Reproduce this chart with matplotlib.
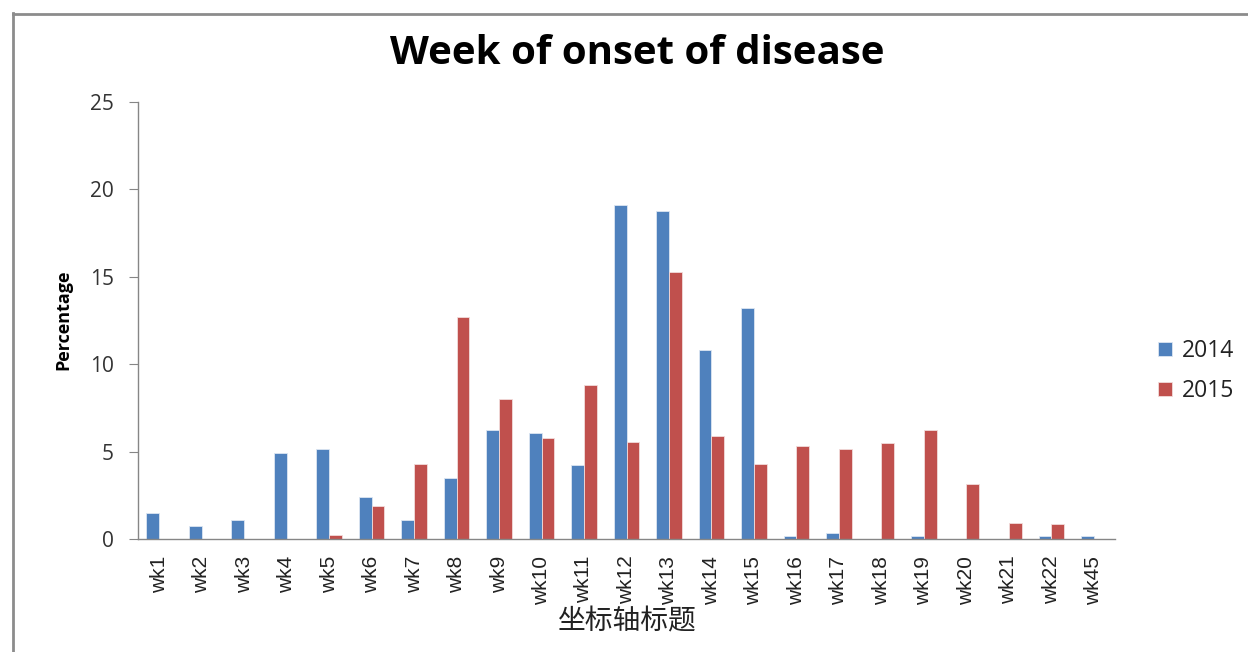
import matplotlib
matplotlib.use("Agg")
import matplotlib.pyplot as plt
import numpy as np
from matplotlib.lines import Line2D

categories = ["wk1", "wk2", "wk3", "wk4", "wk5", "wk6", "wk7", "wk8", "wk9", "wk10",
              "wk11", "wk12", "wk13", "wk14", "wk15", "wk16", "wk17", "wk18", "wk19",
              "wk20", "wk21", "wk22", "wk45"]
values_2014 = [1.5, 0.75, 1.1, 4.9, 5.15, 2.4, 1.1, 3.5, 6.25, 6.05,
               4.25, 19.1, 18.75, 10.8, 13.2, 0.2, 0.35, 0, 0.2, 0, 0, 0.2, 0.2]
values_2015 = [0, 0, 0, 0, 0.25, 1.9, 4.3, 12.7, 8.0, 5.8,
               8.8, 5.55, 15.25, 5.9, 4.3, 5.3, 5.15, 5.5, 6.25, 3.15, 0.9, 0.85, 0]
series_names = ["2014", "2015"]
yticks = [0, 5, 10, 15, 20, 25]

plt.rcParams['font.family'] = ['Open Sans', 'Noto Sans CJK SC', 'DejaVu Sans']

W, H = 1248, 652
fig = plt.figure(figsize=(W / 100, H / 100), dpi=100)
ax = fig.add_axes([138 / W, 1 - 539 / H, (1115 - 138) / W, (539 - 102) / H])

x = np.arange(len(categories))
bw = 0.3
c1, c2 = "#4F81BD", "#C0504D"
ax.bar(x - bw / 2, values_2014, bw, color=c1, edgecolor="#dce6f2", linewidth=0.6, label=series_names[0])
ax.bar(x + bw / 2, values_2015, bw, color=c2, edgecolor="#f2dcdb", linewidth=0.6, label=series_names[1])

ax.set_xlim(-0.5, len(categories) - 0.5)
ax.set_ylim(0, 25)
ax.set_yticks(yticks)
ax.set_xticks(x)
ax.set_xticklabels(categories, rotation=90, fontsize=15, color="#222222",
                   family=['Liberation Sans', 'DejaVu Sans'])
for lab in ax.get_yticklabels():
    lab.set_family(['Open Sans', 'DejaVu Sans'])
ax.tick_params(axis='y', labelsize=15, labelcolor="#333333", length=6.5, color="#868686",
               direction='out', pad=11)
ax.tick_params(axis='x', length=0, pad=12)
for s in ["top", "right"]:
    ax.spines[s].set_visible(False)
for s in ["left", "bottom"]:
    ax.spines[s].set_color("#868686")
    ax.spines[s].set_linewidth(1.0)

fig.text(637 / W, 1 - 53 / H, "Week of onset of disease", ha="center", va="center",
         fontsize=29, fontweight="bold", color="black")
fig.text(63 / W, 1 - 320 / H, "Percentage", rotation=90, ha="center", va="center",
         fontsize=13, fontweight="bold", color="black")
fig.text(627 / W, 1 - 621 / H, "坐标轴标题", ha="center", va="center",
         fontsize=20, color="#222222", family=['Noto Sans CJK SC', 'DejaVu Sans'])

leg = fig.legend(loc="center left", bbox_to_anchor=(1158 / W, 1 - 371 / H), frameon=False,
                 fontsize=16.5, handlelength=0.6, handleheight=0.6, handletextpad=0.45,
                 labelspacing=0.7, borderpad=0, borderaxespad=0)
for t in leg.get_texts():
    t.set_color("#222222")

# outer frame (left and top only visible)
fig.add_artist(Line2D([12.5 / W, 12.5 / W], [0, 1 - 13 / H], transform=fig.transFigure, color="#8c8c8c", linewidth=2))
fig.add_artist(Line2D([12.5 / W, 1], [1 - 13.5 / H, 1 - 13.5 / H], transform=fig.transFigure, color="#8c8c8c", linewidth=2))

fig.savefig("out.png", dpi=100)
